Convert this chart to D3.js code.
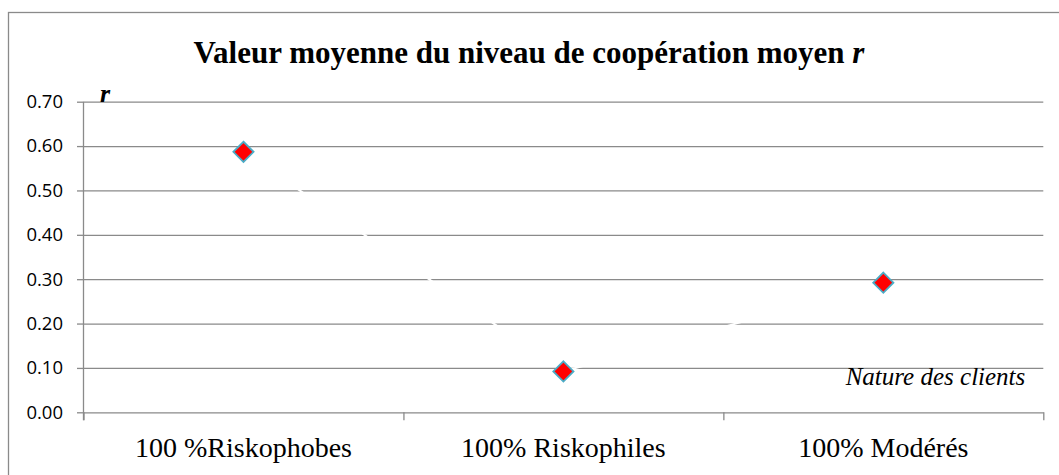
<!DOCTYPE html>
<html>
<head>
<meta charset="utf-8">
<script src="https://cdn.jsdelivr.net/npm/d3@7"></script>
<style>
  body { margin: 0; background: #fff; }
  svg { display: block; }
  .serif { font-family: "Liberation Serif", "Times New Roman", serif; }
  .sans { font-family: "Open Sans", sans-serif; }
</style>
</head>
<body>
<div id="chart"></div>
<script>
// chart data
let categories = ["100 %Riskophobes", "100% Riskophiles", "100% Modérés"];
let values = [0.587, 0.092, 0.292];
let yTicks = [0, 0.1, 0.2, 0.3, 0.4, 0.5, 0.6, 0.7];
let title = "Valeur moyenne du niveau de coopération moyen ";
let yTitle = "r";
let xTitle = "Nature des clients";

let W = 1059, H = 475;
let margin = {top: 101.7, right: 15.7, bottom: 62.7, left: 83.5},
    width = W - margin.left - margin.right,
    height = H - margin.top - margin.bottom;

let svg = d3.select("#chart").append("svg")
    .attr("width", W)
    .attr("height", H);

// outer frame (right/bottom edges fall off the picture)
svg.append("rect")
    .attr("x", 8.5).attr("y", 12.5)
    .attr("width", 1080).attr("height", 500)
    .attr("fill", "none")
    .attr("stroke", "#8a8a8a")
    .attr("stroke-width", 1.3);

// title
let t = svg.append("text")
    .attr("class", "serif")
    .attr("x", 529).attr("y", 62.5)
    .attr("text-anchor", "middle")
    .attr("font-weight", "bold")
    .attr("font-size", 31)
    .text(title);
t.append("tspan").attr("font-style", "italic").text("r");

let g = svg.append("g")
    .attr("transform", "translate(" + margin.left + "," + margin.top + ")");

let y = d3.scaleLinear().domain([0, 0.7]).range([height, 0]);
let x = d3.scaleBand().domain(categories).range([0, width]);
let xb = d3.scaleLinear().domain([0, categories.length]).range([0, width]);

// gridlines
g.append("g")
    .call(d3.axisLeft(y).tickValues(yTicks.slice(1)).tickSize(-width).tickFormat(""))
    .call(s => s.select(".domain").remove())
    .selectAll("line")
    .attr("stroke", "#8a8a8a")
    .attr("stroke-width", 1.3);

// y axis
let yAxis = g.append("g")
    .call(d3.axisLeft(y).tickValues(yTicks).tickSize(6.5).tickPadding(14).tickFormat(d3.format(".2f")).tickSizeOuter(0));
yAxis.attr("font-family", null).attr("font-size", null);
yAxis.select(".domain").attr("stroke", "#8a8a8a").attr("stroke-width", 1.3)
    .attr("d", "M0," + (height + 8) + "V0");
yAxis.selectAll("line").attr("stroke", "#8a8a8a").attr("stroke-width", 1.3);
yAxis.selectAll("text")
    .attr("class", "sans")
    .attr("font-size", 18.5)
    .attr("fill", "#000");

// x axis with ticks at category boundaries
let xAxis = g.append("g")
    .attr("transform", "translate(0," + height + ")")
    .call(d3.axisBottom(xb).tickValues(d3.range(categories.length + 1)).tickSize(8).tickFormat("").tickSizeOuter(0));
xAxis.select(".domain").attr("stroke", "#8a8a8a").attr("stroke-width", 1.3);
xAxis.selectAll("line").attr("stroke", "#8a8a8a").attr("stroke-width", 1.3);

// category labels
g.append("g").selectAll("text")
    .data(categories)
    .enter().append("text")
    .attr("class", "serif")
    .attr("x", d => x(d) + x.bandwidth() / 2)
    .attr("y", height + 44.5)
    .attr("text-anchor", "middle")
    .attr("font-size", 28)
    .text(d => d);

// axis titles
g.append("text")
    .attr("class", "serif")
    .attr("x", 16.5).attr("y", 0)
    .attr("font-style", "italic")
    .attr("font-weight", "bold")
    .attr("font-size", 26)
    .text(yTitle);

g.append("text")
    .attr("class", "serif")
    .attr("x", width - 18).attr("y", y(0.1) + 17)
    .attr("text-anchor", "end")
    .attr("font-style", "italic")
    .attr("font-size", 25)
    .text(xTitle);

// white connecting line (only visible where it crosses gridlines)
let line = d3.line()
    .x((d, i) => x(categories[i]) + x.bandwidth() / 2)
    .y(d => y(d));
g.append("path")
    .datum(values)
    .attr("d", line)
    .attr("fill", "none")
    .attr("stroke", "#fff")
    .attr("stroke-width", 2);

// diamond markers
g.append("g").selectAll("path")
    .data(values)
    .enter().append("path")
    .attr("transform", (d, i) => "translate(" + (x(categories[i]) + x.bandwidth() / 2) + "," + y(d) + ")")
    .attr("d", d3.symbol().type(d3.symbolDiamond2).size(260))
    .attr("fill", "#ff0000")
    .attr("stroke", "#4bacc6")
    .attr("stroke-width", 1.8);
</script>
</body>
</html>
